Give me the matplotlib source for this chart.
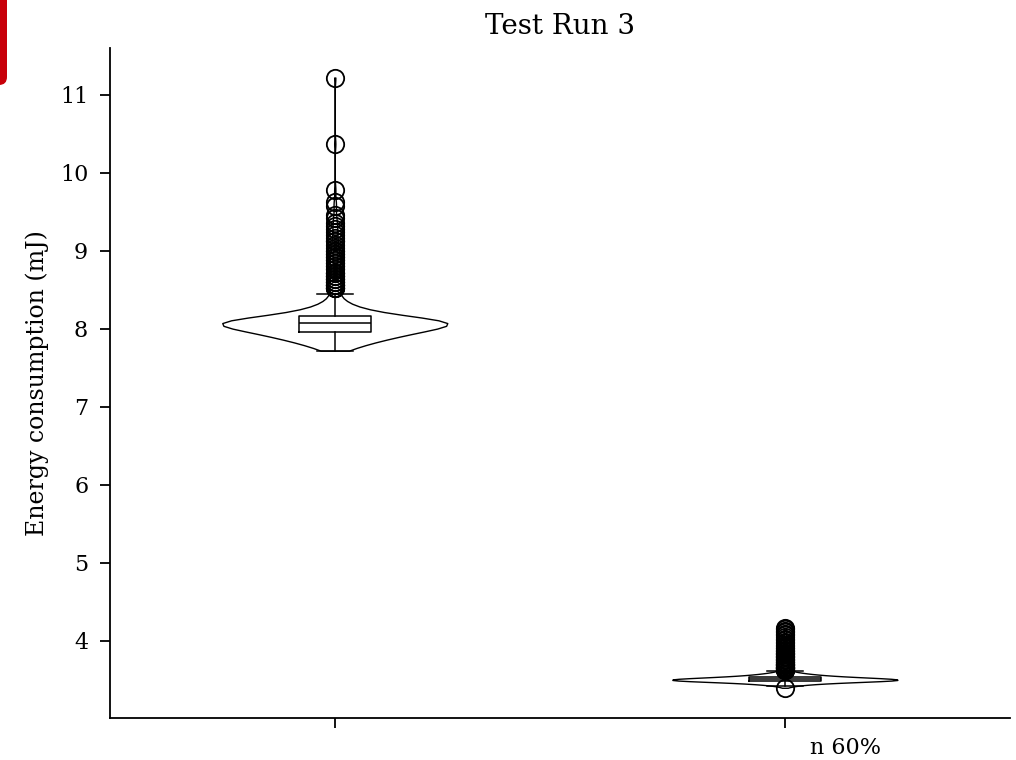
import matplotlib.pyplot as plt
import numpy as np
from matplotlib.patches import FancyBboxPatch

plt.rcParams['font.family'] = ['DejaVu Serif']

# 读数：能耗值 (mJ) 及其出现次数
run_a_values = [7.72, 7.76, 7.80, 7.84, 7.88, 7.92, 7.96, 8.00, 8.04, 8.08,
                8.12, 8.16, 8.20, 8.24, 8.28, 8.32, 8.36, 8.40, 8.44,
                8.52, 8.56, 8.60, 8.64, 8.68, 8.72, 8.76, 8.80, 8.84, 8.88,
                8.92, 8.96, 9.00, 9.04, 9.08, 9.12, 9.16, 9.20, 9.24, 9.28,
                9.32, 9.36, 9.42, 9.46, 9.58, 9.62, 9.78, 10.37, 11.22]
run_a_counts = [6, 9, 13, 18, 24, 30, 36, 42, 50, 66,
                44, 30, 20, 13, 9, 6, 4, 3, 2,
                4, 4, 3, 3, 3, 3, 2, 2, 2, 2,
                2, 2, 2, 1, 1, 2, 1, 1, 1, 1,
                1, 1, 1, 1, 1, 1, 1, 1, 1]

run_b_values = [3.40, 3.42, 3.43, 3.44, 3.45, 3.46, 3.47, 3.48, 3.49, 3.50,
                3.51, 3.52, 3.53, 3.54, 3.55, 3.56, 3.57, 3.58, 3.59, 3.60,
                3.61, 3.63, 3.65, 3.67, 3.69, 3.71, 3.73, 3.75, 3.77, 3.79,
                3.81, 3.83, 3.85, 3.87, 3.89, 3.91, 3.93, 3.95, 3.97, 3.99,
                4.01, 4.03, 4.05, 4.07, 4.09, 4.11, 4.13, 4.15, 4.16]
run_b_counts = [1, 4, 6, 9, 14, 20, 28, 40, 55, 80,
                62, 48, 38, 30, 23, 18, 14, 11, 8, 6,
                4, 4, 4, 3, 3, 3, 3, 2, 2, 2,
                2, 2, 2, 2, 1, 2, 1, 1, 1, 1,
                1, 1, 1, 1, 1, 1, 1, 1, 1]

tick_labels = ['', '']
extra_label = 'n 60%'

data = [np.repeat(run_a_values, run_a_counts),
        np.repeat(run_b_values, run_b_counts)]

fig = plt.figure(figsize=(10.16, 7.6), dpi=100)
ax = fig.add_axes([0.108, 0.055, 0.886, 0.882])

# 小提琴图
parts = ax.violinplot(data, positions=[1, 2], widths=0.5,
                      showextrema=False, bw_method=0.18)
for pc in parts['bodies']:
    pc.set_facecolor('white')
    pc.set_edgecolor('black')
    pc.set_linewidth(1.0)
    pc.set_alpha(1)

# 箱线图叠加
ax.boxplot(data, positions=[1, 2], widths=0.16,
           boxprops=dict(color='black', linewidth=1.1),
           medianprops=dict(color='black', linewidth=1.1),
           whiskerprops=dict(color='black', linewidth=1.1),
           capprops=dict(color='black', linewidth=1.1),
           flierprops=dict(marker='o', markersize=12.5, markerfacecolor='none',
                           markeredgecolor='black', markeredgewidth=1.3))

ax.set_xlim(0.5, 2.5)
ax.set_ylim(3.01, 11.6)
ax.set_yticks(range(4, 12))
ax.set_xticks([1, 2])
ax.set_xticklabels(tick_labels)
ax.tick_params(labelsize=16, length=7, width=1.3)
ax.tick_params(axis='y', pad=8.5)
for s in ['top', 'right']:
    ax.spines[s].set_visible(False)
for s in ['left', 'bottom']:
    ax.spines[s].set_linewidth(1.3)

ax.set_ylabel('Energy consumption (mJ)', fontsize=17, labelpad=8)
ax.set_title('Test Run 3', fontsize=20, pad=10)

fig.text(0.832, 0.016, extra_label, fontsize=16, ha='center', va='center')

# 左上角红色标记
fig.patches.append(FancyBboxPatch((-20, 675), 27, 120, boxstyle='round,pad=0,rounding_size=8',
                                  transform=None, facecolor='#c8000a', edgecolor='none'))

plt.savefig('out.png', dpi=100)
